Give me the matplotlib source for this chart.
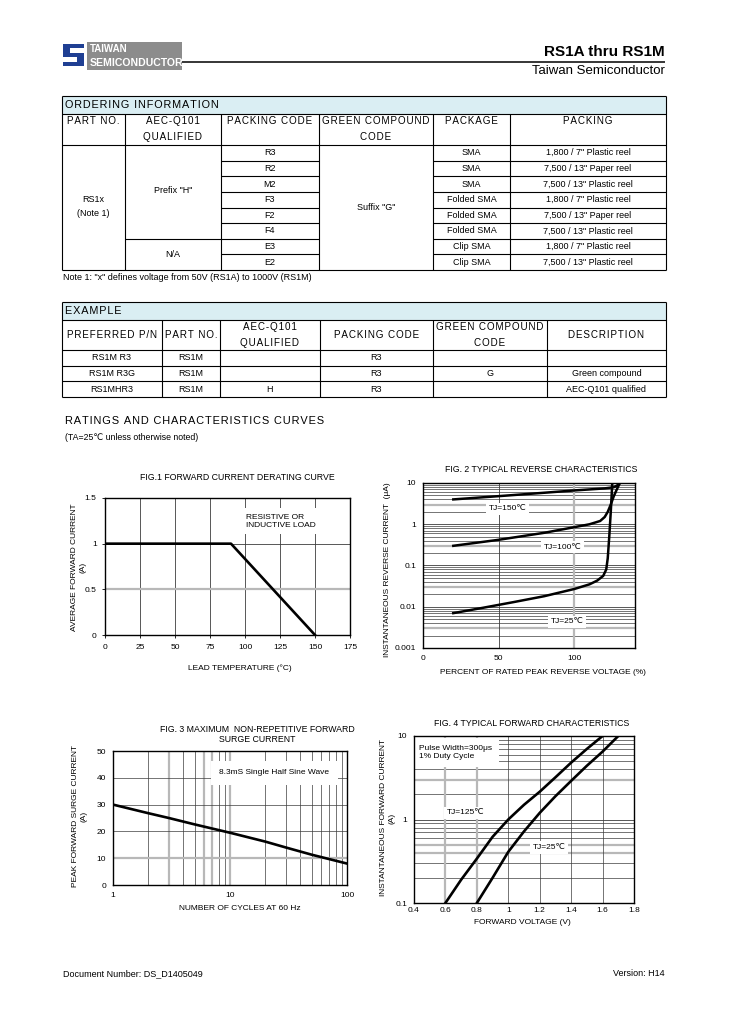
import matplotlib
matplotlib.use("Agg")
import matplotlib.pyplot as plt
from matplotlib.patches import Rectangle

plt.rcParams['font.family'] = ['Liberation Sans', 'DejaVu Sans']

W, H = 729, 1032

# ---- ordering information table ----
order_cols = ["PART NO.", "AEC-Q101\nQUALIFIED", "PACKING CODE", "GREEN COMPOUND\nCODE", "PACKAGE", "PACKING"]
packing_codes = ["R3", "R2", "M2", "F3", "F2", "F4", "E3", "E2"]
packages = ["SMA", "SMA", "SMA", "Folded SMA", "Folded SMA", "Folded SMA", "Clip SMA", "Clip SMA"]
packings = ['1,800 / 7" Plastic reel', '7,500 / 13" Paper reel', '7,500 / 13" Plastic reel',
            '1,800 / 7" Plastic reel', '7,500 / 13" Paper reel', '7,500 / 13" Plastic reel',
            '1,800 / 7" Plastic reel', '7,500 / 13" Plastic reel']

# ---- example table ----
example_cols = ["PREFERRED P/N", "PART NO.", "AEC-Q101\nQUALIFIED", "PACKING CODE", "GREEN COMPOUND\nCODE", "DESCRIPTION"]
example_rows = [["RS1M R3", "RS1M", "", "R3", "", ""],
                ["RS1M R3G", "RS1M", "", "R3", "G", "Green compound"],
                ["RS1MHR3", "RS1M", "H", "R3", "", "AEC-Q101 qualified"]]

# ---- curve data ----
derate_temp = [0, 90, 150]
derate_current = [1, 1, 0]

rev_pct_25 = [20, 40, 60, 80, 100, 110, 115, 119, 121, 122, 123, 124, 125]
rev_ir_25 = [0.007, 0.0095, 0.013, 0.018, 0.027, 0.035, 0.043, 0.056, 0.08, 0.15, 0.5, 2, 10]
rev_pct_100 = [20, 50, 80, 100, 110, 117, 120, 122, 124, 126, 128, 130]
rev_ir_100 = [0.3, 0.42, 0.62, 0.85, 1.0, 1.2, 1.5, 2.0, 3.0, 4.8, 7.0, 10]
rev_pct_150 = [20, 50, 80, 100, 120, 126, 128, 130]
rev_ir_150 = [4, 4.8, 5.8, 6.6, 7.4, 7.9, 8.6, 10]

cycles = [1, 2, 3, 5, 10, 20, 30, 50, 100]
surge = [30, 26.8, 25, 22.6, 19.5, 16.2, 14, 11.3, 8]

vf_125 = [0.6, 0.7, 0.8, 0.9, 1.0, 1.1, 1.2, 1.3, 1.4, 1.5, 1.6]
if_125 = [0.1, 0.19, 0.34, 0.62, 1.0, 1.5, 2.15, 3.2, 4.8, 7.0, 10]
vf_25 = [0.8, 0.9, 1.0, 1.1, 1.2, 1.3, 1.4, 1.5, 1.6, 1.7]
if_25 = [0.1, 0.2, 0.41, 0.72, 1.2, 1.9, 2.9, 4.4, 6.5, 10]

DARK = '#3c3c3c'
LIGHT = '#b8b8b8'
HEAD_BG = '#daeef3'

fig = plt.figure(figsize=(W / 100, H / 100), dpi=100)
page = fig.add_axes([0, 0, 1, 1])
page.set_xlim(0, W)
page.set_ylim(H, 0)
page.axis('off')


def spaced(s):
    # the datasheet headings use a little extra tracking
    return '\u200a'.join(s)


def ptext(x, y, s, size=6.5, ha='center', va='center', **kw):
    page.text(x, y, s, fontsize=size, ha=ha, va=va, **kw)


def hline(x0, x1, y, lw=0.8, c='black'):
    page.plot([x0, x1], [y, y], color=c, lw=lw, solid_capstyle='butt')


def vline(x, y0, y1, lw=0.8, c='black'):
    page.plot([x, x], [y0, y1], color=c, lw=lw, solid_capstyle='butt')


# header / logo
for (x, y, w, h) in [(63, 44, 21, 4), (63, 44, 7, 12), (63, 53, 21, 4), (77, 53, 7, 13), (63, 62, 21, 4)]:
    page.add_patch(Rectangle((x, y), w, h, color='#1f3f93', lw=0))
page.add_patch(Rectangle((87, 42), 95, 28, color='#8c8c8c', lw=0))
ptext(90, 49.5, "TAIWAN", size=7, ha='left', color='white', weight='bold')
ptext(90, 63, "SEMICONDUCTOR", size=7.6, ha='left', color='white', weight='bold')
hline(182, 665, 62, lw=1.1)
ptext(665, 52, "RS1A thru RS1M", size=11, ha='right', weight='bold')
ptext(665, 71, "Taiwan Semiconductor", size=9.5, ha='right')

# ordering table
ox = [62, 125, 221, 319, 433, 510, 666]
t_top, t_head, t_data, t_bot = 96, 114, 145, 270
rh = (t_bot - t_data) / len(packing_codes)
page.add_patch(Rectangle((ox[0], t_top), ox[-1] - ox[0], t_head - t_top, color=HEAD_BG, lw=0))
ptext(65, 105, spaced("ORDERING INFORMATION"), size=7.8, ha='left')
for i, name in enumerate(order_cols):
    cx = (ox[i] + ox[i + 1]) / 2
    for j, line in enumerate(name.split("\n")):
        ptext(cx, 121 + j * 16, spaced(line), size=7.1)
hline(ox[0], ox[-1], t_top)
hline(ox[0], ox[-1], t_head)
hline(ox[0], ox[-1], t_data)
hline(ox[0], ox[-1], t_bot)
vline(ox[0], t_top, t_bot)
vline(ox[-1], t_top, t_bot)
for x in ox[1:-1]:
    vline(x, t_head, t_bot)
for i in range(len(packing_codes)):
    yc = t_data + (i + 0.5) * rh
    ptext((ox[2] + ox[3]) / 2, yc, packing_codes[i], size=6.5)
    ptext((ox[4] + ox[5]) / 2, yc, packages[i], size=6.5)
    ptext((ox[5] + ox[6]) / 2, yc, packings[i], size=6.5)
    if i > 0:
        yl = t_data + i * rh
        hline(ox[2], ox[3], yl)
        hline(ox[4], ox[6], yl)
hline(ox[1], ox[2], t_data + 6 * rh)
ptext((ox[0] + ox[1]) / 2, 200, "RS1x", size=6.5)
ptext((ox[0] + ox[1]) / 2, 213, "(Note 1)", size=6.5)
ptext((ox[1] + ox[2]) / 2, t_data + 3 * rh - 1, 'Prefix "H"', size=6.5)
ptext((ox[1] + ox[2]) / 2, t_data + 7 * rh, 'N/A', size=6.5)
ptext((ox[3] + ox[4]) / 2, t_data + 4 * rh, 'Suffix "G"', size=6.5)
ptext(63, 277, 'Note 1: "x" defines voltage from 50V (RS1A) to 1000V (RS1M)', size=6.5, ha='left')

# example table
ex = [62, 162, 220, 320, 433, 547, 666]
e_top, e_head, e_data, e_bot = 302, 320, 350, 397
erh = (e_bot - e_data) / len(example_rows)
page.add_patch(Rectangle((ex[0], e_top), ex[-1] - ex[0], e_head - e_top, color=HEAD_BG, lw=0))
ptext(65, 311, spaced("EXAMPLE"), size=7.8, ha='left')
for i, name in enumerate(example_cols):
    cx = (ex[i] + ex[i + 1]) / 2
    lines = name.split("\n")
    if len(lines) == 1:
        ptext(cx, 335, spaced(lines[0]), size=7.1)
    else:
        ptext(cx, 327, spaced(lines[0]), size=7.1)
        ptext(cx, 343, spaced(lines[1]), size=7.1)
for y in [e_top, e_head, e_bot]:
    hline(ex[0], ex[-1], y)
for k in range(len(example_rows)):
    hline(ex[0], ex[-1], e_data + k * erh)
vline(ex[0], e_top, e_bot)
vline(ex[-1], e_top, e_bot)
for x in ex[1:-1]:
    vline(x, e_head, e_bot)
for k, row in enumerate(example_rows):
    yc = e_data + (k + 0.5) * erh
    for i, s in enumerate(row):
        ptext((ex[i] + ex[i + 1]) / 2, yc, s, size=6.5)

ptext(65, 421, spaced("RATINGS AND CHARACTERISTICS CURVES"), size=7.9, ha='left')
ptext(65, 438, "(TA=25\u2103 unless otherwise noted)", size=6.3, ha='left')


def px_axes(l, t, r, b):
    return fig.add_axes([l / W, 1 - b / H, (r - l) / W, (b - t) / H])


def style(ax):
    for sp in ax.spines.values():
        sp.set_color('black')
        sp.set_linewidth(1.0)
    ax.tick_params(labelsize=6, length=2.5, width=0.6, direction='out')
    ax.set_axisbelow(True)


box = dict(facecolor='white', edgecolor='none', pad=2)

# FIG 1
ax1 = px_axes(105, 498, 350, 635)
style(ax1)
ax1.set_xlim(0, 175)
ax1.set_ylim(0, 1.5)
ax1.set_xticks([0, 25, 50, 75, 100, 125, 150, 175])
ax1.set_yticks([0, 0.5, 1, 1.5])
ax1.set_yticklabels(["0", "0.5", "1", "1.5"])
ax1.tick_params(axis='x', pad=4)
for x in [25, 50, 75, 100, 125, 150]:
    ax1.axvline(x, color=DARK, lw=0.6, zorder=0)
ax1.axhline(1, color=DARK, lw=0.6, zorder=0)
ax1.axhline(0.5, color=LIGHT, lw=1.6, zorder=0)
ax1.plot(derate_temp, derate_current, color='black', lw=1.9, zorder=3)
ax1.text(101, 1.245, "RESISTIVE OR\nINDUCTIVE LOAD", fontsize=6, ha='left', va='center',
         bbox=dict(facecolor='white', edgecolor='none', pad=4), zorder=2)
ptext(237, 478, "FIG.1 FORWARD CURRENT DERATING CURVE", size=6.3)
ptext(240, 668, "LEAD TEMPERATURE (\u00b0C)", size=6)
ptext(79, 567, "AVERAGE FORWARD CURRENT\n(A)", size=6, rotation=90, ma='center')

# FIG 2
ax2 = px_axes(423, 483, 635, 648)
style(ax2)
ax2.set_xlim(0, 140)
ax2.set_yscale('log')
ax2.set_ylim(0.001, 10)
ax2.set_xticks([0, 50, 100])
ax2.set_yticks([0.001, 0.01, 0.1, 1, 10])
ax2.set_yticklabels(["0.001", "0.01", "0.1", "1", "10"])
ax2.minorticks_off()
ax2.tick_params(axis='x', length=0, pad=5)
ax2.tick_params(axis='y', length=0, pad=5)
for dec in [0.001, 0.01, 0.1, 1]:
    for m in range(2, 10):
        if m == 3:
            ax2.axhline(dec * m, color=LIGHT, lw=1.6, zorder=0)
        else:
            ax2.axhline(dec * m, color=DARK, lw=0.5, zorder=0)
    ax2.axhline(dec, color=DARK, lw=0.6, zorder=0)
ax2.axvline(50, color=DARK, lw=0.6, zorder=0)
ax2.axvline(100, color=LIGHT, lw=1.6, zorder=0)
ax2.plot(rev_pct_25, rev_ir_25, color='black', lw=1.8, zorder=3)
ax2.plot(rev_pct_100, rev_ir_100, color='black', lw=1.8, zorder=3)
ax2.plot(rev_pct_150, rev_ir_150, color='black', lw=1.8, zorder=3)
ax2.text(56, 2.35, "TJ=150\u2103", fontsize=6, ha='center', va='center', bbox=box, zorder=2)
ax2.text(92, 0.28, "TJ=100\u2103", fontsize=6, ha='center', va='center', bbox=box, zorder=2)
ax2.text(95, 0.0043, "TJ=25\u2103", fontsize=6, ha='center', va='center', bbox=box, zorder=2)
ptext(541, 469, "FIG. 2 TYPICAL REVERSE CHARACTERISTICS", size=6.3)
ptext(543, 673, "PERCENT OF RATED PEAK REVERSE VOLTAGE (%)", size=6)
ptext(388, 570, "INSTANTANEOUS REVERSE CURRENT  (\u03bcA)", size=6, rotation=90)

# FIG 3
ax3 = px_axes(113, 751, 347, 885)
style(ax3)
ax3.set_xscale('log')
ax3.set_xlim(1, 100)
ax3.set_ylim(0, 50)
ax3.set_xticks([1, 10, 100])
ax3.set_xticklabels(["1", "10", "100"])
ax3.set_yticks([0, 10, 20, 30, 40, 50])
ax3.minorticks_off()
ax3.tick_params(axis='both', length=0, pad=5)
for dec in [1, 10]:
    for m in range(2, 10):
        v = dec * m
        if v in (3, 6, 7):
            ax3.axvline(v, color=LIGHT, lw=1.6, zorder=0)
        else:
            ax3.axvline(v, color=DARK, lw=0.5, zorder=0)
ax3.axvline(10, color=LIGHT, lw=1.6, zorder=0)
for y in [20, 30, 40]:
    ax3.axhline(y, color=DARK, lw=0.5, zorder=0)
ax3.axhline(10, color=LIGHT, lw=1.6, zorder=0)
ax3.plot(cycles, surge, color='black', lw=1.9, zorder=3)
ax3.text(24, 41.8, "8.3mS Single Half Sine Wave", fontsize=6, ha='center', va='center',
         bbox=dict(facecolor='white', edgecolor='none', pad=6), zorder=2)
ptext(257, 729, "FIG. 3 MAXIMUM  NON-REPETITIVE FORWARD", size=6.3)
ptext(257, 740, "SURGE CURRENT", size=6.3)
ptext(240, 909, "NUMBER OF CYCLES AT 60 Hz", size=6)
ptext(80, 816, "PEAK FORWARD SURGE CURRENT\n(A)", size=6, rotation=90, ma='center')

# FIG 4
ax4 = px_axes(414, 736, 634, 903)
style(ax4)
ax4.set_xlim(0.4, 1.8)
ax4.set_yscale('log')
ax4.set_ylim(0.1, 10)
ax4.set_xticks([0.4, 0.6, 0.8, 1.0, 1.2, 1.4, 1.6, 1.8])
ax4.set_xticklabels(["0.4", "0.6", "0.8", "1", "1.2", "1.4", "1.6", "1.8"])
ax4.set_yticks([0.1, 1, 10])
ax4.set_yticklabels(["0.1", "1", "10"])
ax4.minorticks_off()
ax4.tick_params(axis='x', length=0, pad=3)
ax4.tick_params(axis='y', length=0, pad=5)
for dec in [0.1, 1]:
    for m in range(2, 10):
        v = round(dec * m, 2)
        if v in (0.4, 0.5, 3):
            ax4.axhline(v, color=LIGHT, lw=1.6, zorder=0)
        else:
            ax4.axhline(v, color=DARK, lw=0.5, zorder=0)
ax4.axhline(1, color=DARK, lw=0.6, zorder=0)
for x in [0.6, 0.8]:
    ax4.axvline(x, color=LIGHT, lw=1.6, zorder=0)
for x in [1.0, 1.2, 1.4, 1.6]:
    ax4.axvline(x, color=DARK, lw=0.5, zorder=0)
ax4.plot(vf_125, if_125, color='black', lw=1.9, zorder=3)
ax4.plot(vf_25, if_25, color='black', lw=1.9, zorder=3)
ax4.text(0.43, 6.3, "Pulse Width=300\u03bcs\n1% Duty Cycle", fontsize=6, ha='left', va='center',
         bbox=dict(facecolor='white', edgecolor='none', pad=5), zorder=2)
ax4.text(0.73, 1.2, "TJ=125\u2103", fontsize=6, ha='center', va='center', bbox=box, zorder=2)
ax4.text(1.26, 0.46, "TJ=25\u2103", fontsize=6, ha='center', va='center', bbox=box, zorder=2)
ptext(532, 724, "FIG. 4 TYPICAL FORWARD CHARACTERISTICS", size=6.3)
ptext(522, 922, "FORWARD VOLTAGE (V)", size=6)
ptext(388, 818, "INSTANTANEOUS FORWARD CURRENT\n(A)", size=6, rotation=90, ma='center')

# footer
ptext(63, 974, "Document Number: DS_D1405049", size=6.5, ha='left')
ptext(665, 974, "Version: H14", size=6.5, ha='right')

fig.savefig("out.png", dpi=100)
